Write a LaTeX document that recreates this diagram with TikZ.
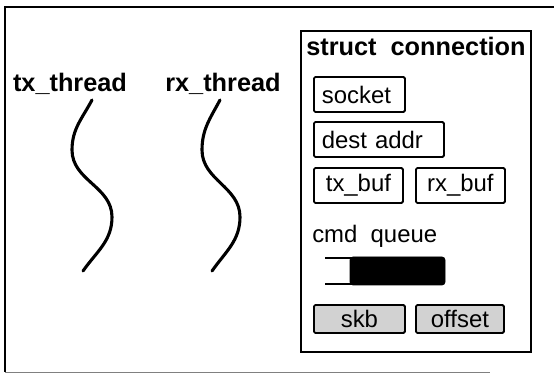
\documentclass[tikz,border=0pt]{standalone}
\usepackage{fontspec}
\setmainfont{Liberation Sans}
\newcommand{\labelfont}{\fontsize{18}{21}\selectfont\bfseries}
\newcommand{\fieldfont}{\fontsize{17}{20}\selectfont}
\tikzset{
  fieldbox/.style={draw, line width=1.3pt, rounded corners=1pt, inner xsep=0.2cm,
    inner ysep=0pt, minimum height=0.875cm, font=\fieldfont, anchor=west},
  shadebox/.style={fieldbox, fill=gray!35, minimum height=0.7cm},
  threadline/.style={line width=2.2pt, line cap=round}
}
\begin{document}
\begin{tikzpicture}
  \useasboundingbox (0,0) rectangle (13.85,9.35);
  % outer frame
  \draw[line width=1.5pt] (0.125,0.05) -- (0.125,9.175) -- (13.85,9.175);
  \draw[gray, line width=0.6pt] (0.125,0.05) -- (12.25,0.05);
  % threads (left)
  \node[font=\labelfont] (txlabel) at (1.75,7.25) {tx\_thread};
  \node[font=\labelfont] (rxlabel) at (5.575,7.25) {rx\_thread};
  \draw[threadline] (2.3,6.85) to[out=-118,in=90] (1.8,5.6)
    to[out=-90,in=90] (2.8,3.925) to[out=-90,in=55] (2.075,2.575);
  \draw[threadline] (5.5,6.85) to[out=-118,in=90] (5.05,5.6)
    to[out=-90,in=90] (6.0,3.925) to[out=-90,in=55] (5.3,2.575);
  % struct connection (right)
  \draw[line width=1.4pt] (7.525,0.55) rectangle (13.275,8.575);
  \node[font=\labelfont, anchor=base] (conn) at (10.4,7.95) {struct\ \ connection};
  \node[fieldbox, minimum width=2.275cm, text width=1.875cm, align=left] (socket)
    at (7.825,6.9875) {socket};
  \node[fieldbox, minimum width=3.25cm, text width=2.85cm, align=left] (dest)
    at (7.825,5.8625) {dest addr};
  \node[fieldbox, minimum width=2.225cm] (txbuf) at (7.825,4.7125) {tx\_buf};
  \node[fieldbox, minimum width=2.225cm] (rxbuf) at (10.375,4.7125) {rx\_buf};
  % command queue
  \node[font=\fieldfont, anchor=base west, inner sep=0pt] (cmdq) at (7.8,3.275) {cmd\ \ queue};
  \filldraw[fill=black, draw=black, rounded corners=2pt] (8.75,2.225) rectangle (11.125,2.925);
  \draw[line width=1.3pt] (8.125,2.9) -- (8.8,2.9);
  \draw[line width=1.3pt] (8.125,2.25) -- (8.8,2.25);
  % buffers
  \node[shadebox, minimum width=2.275cm] (skb) at (7.825,1.375) {skb};
  \node[shadebox, minimum width=2.2cm] (offset) at (10.375,1.375) {offset};
\end{tikzpicture}
\end{document}
